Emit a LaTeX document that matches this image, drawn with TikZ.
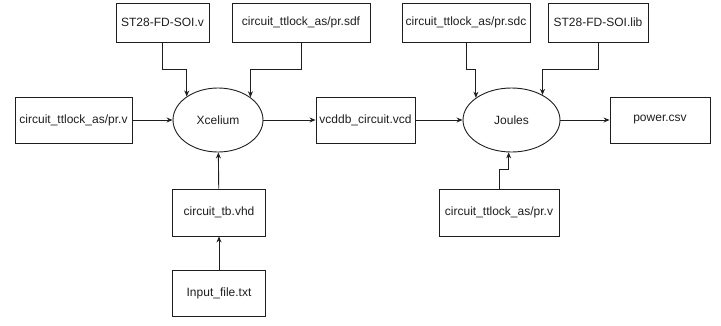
\documentclass[tikz,border=0pt]{standalone}
\usepackage{fontspec}
\setmainfont{Liberation Sans}
\usetikzlibrary{shapes.geometric,arrows.meta}
\definecolor{ink}{RGB}{30,30,30}
\begin{document}
\begin{tikzpicture}[x=1pt,y=-1pt,
  filebox/.style={draw=ink,line width=0.9pt,rectangle,inner sep=0pt,text=ink,font=\fontsize{12}{14}\selectfont},
  tool/.style={draw=ink,line width=0.9pt,ellipse,inner sep=0pt,text=ink,font=\fontsize{12}{14}\selectfont},
  arr/.style={draw=ink,line width=0.9pt,-{Stealth[length=6pt,width=5pt]}}]
\useasboundingbox (0,0) rectangle (721,325);
\node[filebox,minimum width=93pt,minimum height=39pt] (st) at (162.5,22.5) {ST28-FD-SOI.v};
\node[filebox,minimum width=138pt,minimum height=39pt] (sdf) at (301,22.5) {circuit\_ttlock\_as/pr.sdf};
\node[filebox,minimum width=117pt,minimum height=46pt] (prv) at (73.5,120) {circuit\_ttlock\_as/pr.v};
\node[tool,minimum width=90pt,minimum height=64pt] (xcel) at (218,120) {Xcelium};
\node[filebox,minimum width=99pt,minimum height=46pt] (vcd) at (365.5,120) {vcddb\_circuit.vcd};
\node[filebox,minimum width=93pt,minimum height=47pt] (tb) at (219,212.5) {circuit\_tb.vhd};
\node[filebox,minimum width=93pt,minimum height=46pt] (inp) at (219,293) {Input\_file.txt};
\node[filebox,minimum width=128pt,minimum height=39pt] (sdc) at (466,22.5) {circuit\_ttlock\_as/pr.sdc};
\node[filebox,minimum width=100pt,minimum height=39pt] (lib) at (598,22.5) {ST28-FD-SOI.lib};
\node[tool,minimum width=97pt,minimum height=64pt] (jou) at (511.5,120) {Joules};
\node[filebox,minimum width=100pt,minimum height=46pt] (pow) at (660,120) {power.csv};
\node[filebox,minimum width=120pt,minimum height=47pt] (prv2) at (499,212.5) {circuit\_ttlock\_as/pr.v};

\draw[arr] (st.south) -- ++(0,27) -| (xcel.143);
\draw[arr] (sdf.south) -- ++(0,27) -| (xcel.35);
\draw[arr] (prv) -- (xcel);
\draw[arr] (xcel) -- (vcd);
\draw[arr] (tb) -- (xcel);
\draw[arr] (inp) -- (tb);
\draw[arr] (sdc.south) -- ++(0,27) -| (jou.148);
\draw[arr] (lib.south) -- ++(0,27) -| (jou.39);
\draw[arr] (vcd) -- (jou);
\draw[arr] (jou) -- (pow);
\draw[arr] (prv2.north) -- ++(0,-19) -| (jou.265);
\end{tikzpicture}
\end{document}
